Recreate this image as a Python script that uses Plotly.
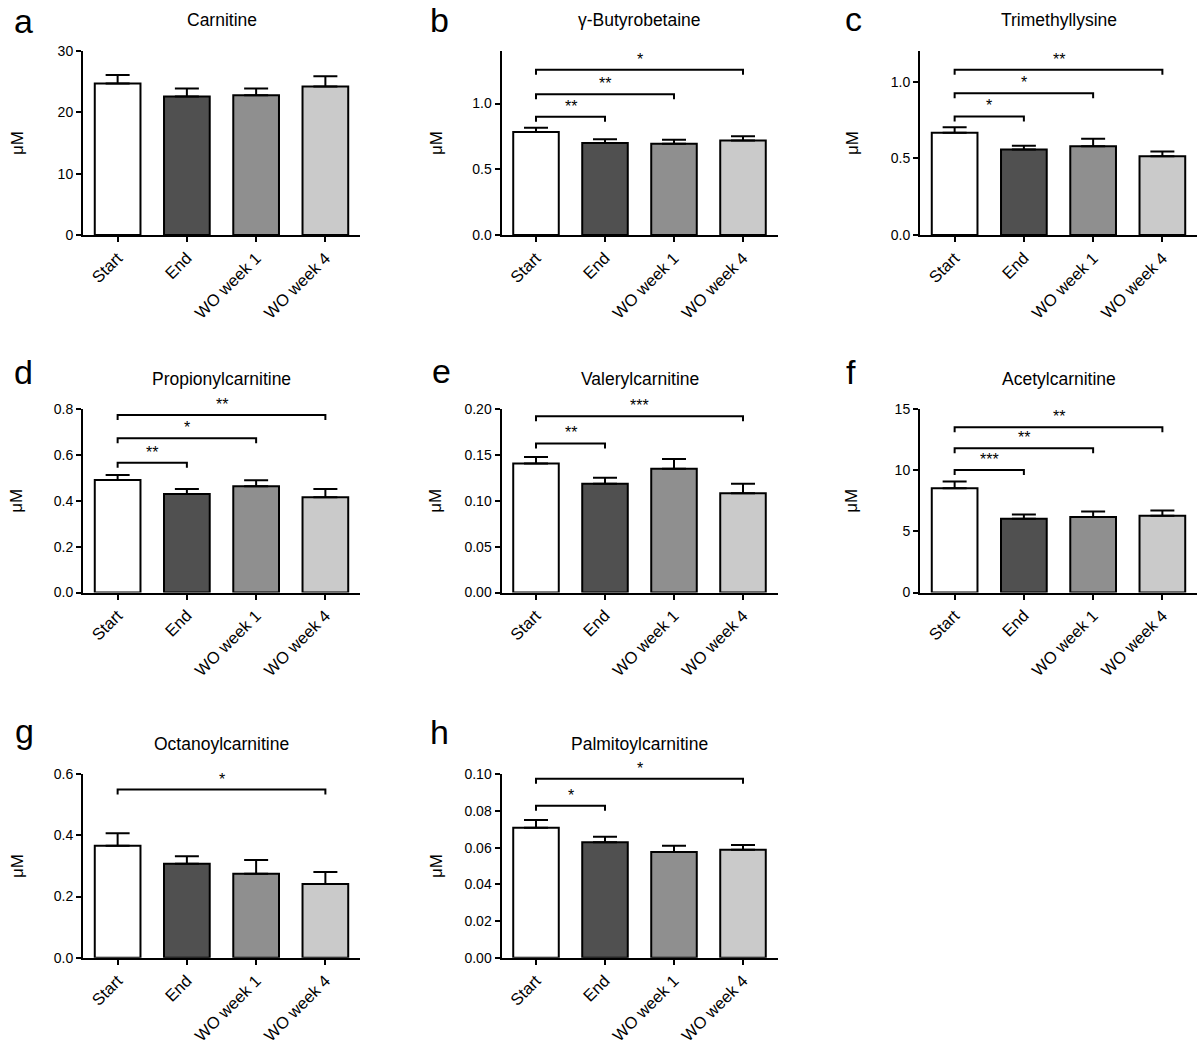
import plotly.graph_objects as go

categories = ["Start", "End", "WO week 1", "WO week 4"]
bar_colors = ["#ffffff", "#505050", "#8f8f8f", "#cacaca"]

letters = ["a", "b", "c", "d", "e", "f", "g", "h"]
titles = ["Carnitine", "γ-Butyrobetaine", "Trimethyllysine", "Propionylcarnitine",
          "Valerylcarnitine", "Acetylcarnitine", "Octanoylcarnitine", "Palmitoylcarnitine"]

# means and SEM (upper error) per panel
carnitine_mean = [24.7, 22.6, 22.8, 24.2]
carnitine_sem = [1.4, 1.3, 1.1, 1.7]
butyrobetaine_mean = [0.783, 0.700, 0.694, 0.719]
butyrobetaine_sem = [0.033, 0.029, 0.030, 0.033]
trimethyllysine_mean = [0.667, 0.558, 0.578, 0.513]
trimethyllysine_sem = [0.036, 0.024, 0.050, 0.032]
propionyl_mean = [0.490, 0.429, 0.463, 0.415]
propionyl_sem = [0.022, 0.022, 0.026, 0.036]
valeryl_mean = [0.1407, 0.1185, 0.1349, 0.1083]
valeryl_sem = [0.0069, 0.0065, 0.0105, 0.0102]
acetyl_mean = [8.53, 6.03, 6.17, 6.28]
acetyl_sem = [0.54, 0.35, 0.46, 0.43]
octanoyl_mean = [0.366, 0.307, 0.275, 0.241]
octanoyl_sem = [0.041, 0.025, 0.045, 0.039]
palmitoyl_mean = [0.0709, 0.0630, 0.0577, 0.0588]
palmitoyl_sem = [0.0042, 0.0030, 0.0034, 0.0027]

# y-axis maxima, tick steps and tick formats
y_max = [30, 1.4, 1.2, 0.8, 0.2, 15, 0.6, 0.1]
y_dtick = [10, 0.5, 0.5, 0.2, 0.05, 5, 0.2, 0.02]
y_fmt = ["d", ".1f", ".1f", ".1f", ".2f", "d", ".1f", ".2f"]

# significance brackets: (from index, to index, y level, label)
brackets_a = []
brackets_b = [(0, 1, 0.90, "**"), (0, 2, 1.07, "**"), (0, 3, 1.257, "*")]
brackets_c = [(0, 1, 0.773, "*"), (0, 2, 0.924, "*"), (0, 3, 1.078, "**")]
brackets_d = [(0, 1, 0.566, "**"), (0, 2, 0.672, "*"), (0, 3, 0.774, "**")]
brackets_e = [(0, 1, 0.1625, "**"), (0, 3, 0.192, "***")]
brackets_f = [(0, 1, 10.02, "***"), (0, 2, 11.8, "**"), (0, 3, 13.5, "**")]
brackets_g = [(0, 3, 0.55, "*")]
brackets_h = [(0, 1, 0.0828, "*"), (0, 3, 0.0976, "*")]

means = [carnitine_mean, butyrobetaine_mean, trimethyllysine_mean, propionyl_mean,
         valeryl_mean, acetyl_mean, octanoyl_mean, palmitoyl_mean]
sems = [carnitine_sem, butyrobetaine_sem, trimethyllysine_sem, propionyl_sem,
        valeryl_sem, acetyl_sem, octanoyl_sem, palmitoyl_sem]
brackets = [brackets_a, brackets_b, brackets_c, brackets_d,
            brackets_e, brackets_f, brackets_g, brackets_h]

W, H = 1200, 1047
FONT = "Liberation Sans, Arial, Helvetica, sans-serif"

col_x = [(83, 360), (501.5, 777.5), (920, 1197)]
row_y = [(51, 235), (409, 592.5), (774.3, 957.7)]
letter_pos = [(23, 21), (440, 20.5), (853, 19.5), (23, 372), (441, 371), (851, 372), (24, 731), (440, 732)]
title_y = [20.5, 379, 744]
ylabel_x = [17, 436, 852]

fig = go.Figure()
annotations = []
layout = dict(width=W, height=H, margin=dict(l=0, r=0, t=0, b=0, autoexpand=False),
              paper_bgcolor="white", plot_bgcolor="white", showlegend=False,
              font=dict(family=FONT, color="black"))

xpos = list(range(len(categories)))
for k in range(8):
    n = k + 1
    r, c = divmod(k, 3)
    xa = "x" if n == 1 else f"x{n}"
    ya = "y" if n == 1 else f"y{n}"
    x0, x1 = col_x[c]
    yt, yb = row_y[r]
    layout[f"xaxis{n}" if n > 1 else "xaxis"] = dict(
        domain=[x0 / W, x1 / W], anchor=ya, range=[-0.5, 3.5], automargin=False,
        tickmode="array", tickvals=xpos, ticktext=categories, tickangle=-45,
        ticks="outside", ticklen=5, tickwidth=2, tickcolor="black",
        showline=True, linewidth=2, linecolor="black", showgrid=False, zeroline=False,
        tickfont=dict(size=16.5, family=FONT, color="black"))
    layout[f"yaxis{n}" if n > 1 else "yaxis"] = dict(
        domain=[1 - yb / H, 1 - yt / H], anchor=xa, range=[0, y_max[k]], automargin=False,
        tick0=0, dtick=y_dtick[k], tickformat=y_fmt[k],
        ticks="outside", ticklen=5, tickwidth=2, tickcolor="black",
        showline=True, linewidth=2, linecolor="black", showgrid=False, zeroline=False,
        tickfont=dict(size=14, family=FONT, color="black"))

    fig.add_trace(go.Bar(
        x=xpos, y=means[k], width=0.66, xaxis=xa, yaxis=ya,
        marker=dict(color=bar_colors, line=dict(color="black", width=2)),
        error_y=dict(type="data", symmetric=False, array=sems[k], arrayminus=[0] * 4,
                     color="black", thickness=2, width=12)))

    tick = y_max[k] * 5 / 184
    for (i, j, yv, lab) in brackets[k]:
        fig.add_trace(go.Scatter(
            x=[i, i, j, j], y=[yv - tick, yv, yv, yv - tick], mode="lines",
            line=dict(color="black", width=2), xaxis=xa, yaxis=ya, hoverinfo="skip"))
        annotations.append(dict(x=(i + j) / 2, y=yv, xref=xa, yref=ya, text=lab,
                                showarrow=False, yanchor="bottom", xanchor="center",
                                font=dict(size=16, family=FONT, color="black")))

    # panel title
    annotations.append(dict(x=(x0 + x1) / 2 / W, y=1 - title_y[r] / H, xref="paper", yref="paper",
                            text=titles[k], showarrow=False, xanchor="center", yanchor="middle",
                            font=dict(size=17.5, family=FONT, color="black")))
    # panel letter
    lx, ly = letter_pos[k]
    annotations.append(dict(x=lx / W, y=1 - ly / H, xref="paper", yref="paper",
                            text=letters[k], showarrow=False, xanchor="center", yanchor="middle",
                            font=dict(size=34, family=FONT, color="black")))
    # y axis label
    annotations.append(dict(x=ylabel_x[c] / W, y=1 - (yt + yb) / 2 / H, xref="paper", yref="paper",
                            text="μM", textangle=-90, showarrow=False, xanchor="center",
                            yanchor="middle", font=dict(size=17, family=FONT, color="black")))

layout["annotations"] = annotations
fig.update_layout(**layout)
post = ("var gd=document.getElementById('{plot_id}');"
        "document.documentElement.style.margin='0';document.body.style.margin='0';"
        "document.body.style.overflow='hidden';"
        "gd.style.position='fixed';gd.style.left='0px';gd.style.top='0px';")
fig.write_html("out.html", config={"displayModeBar": False}, post_script=post)
